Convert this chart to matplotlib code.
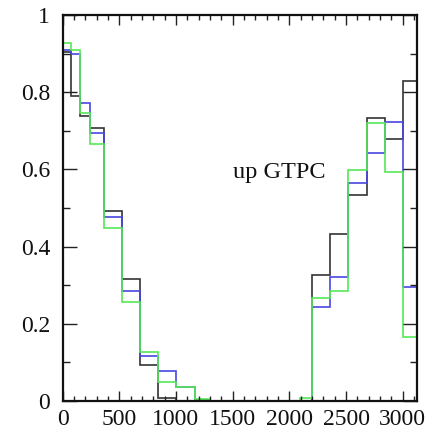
import matplotlib
matplotlib.use("Agg")
import matplotlib.pyplot as plt
from matplotlib.ticker import MultipleLocator, FuncFormatter

# bin edges (data units) and bin contents
edges = [0, 75, 155, 240, 365, 525, 685, 840, 1000, 1165, 1290,
         2090, 2200, 2360, 2520, 2680, 2840, 3000, 3160]
black = [0.905, 0.79, 0.738, 0.706, 0.493, 0.316, 0.093, 0.009, 0.0, 0.002,
         0.0, 0.0, 0.326, 0.432, 0.534, 0.734, 0.680, 0.83]
blue = [0.91, 0.90, 0.773, 0.694, 0.476, 0.286, 0.117, 0.078, 0.035, 0.0,
        0.0, 0.0, 0.243, 0.320, 0.566, 0.642, 0.724, 0.295]
green = [0.928, 0.91, 0.745, 0.667, 0.447, 0.256, 0.128, 0.050, 0.035, 0.005,
         0.0, 0.009, 0.266, 0.286, 0.598, 0.720, 0.594, 0.167]
label = "up GTPC"
xticks = [0, 500, 1000, 1500, 2000, 2500, 3000]
yticks = [0, 0.2, 0.4, 0.6, 0.8, 1.0]

W, H = 428, 433
fig = plt.figure(figsize=(W / 100, H / 100), dpi=100)
ax = fig.add_axes([62.5 / W, 1 - 401 / H, (417 - 62.5) / W, (401 - 15) / H])

serif = ["Liberation Serif", "DejaVu Serif"]
lw = 1.2
ax.stairs(black, edges, baseline=0, color="#333333", lw=lw)
ax.stairs(blue, edges, baseline=0, color="#4848e0", lw=lw)
ax.stairs(green, edges, baseline=0, color="#55e855", lw=lw)

ax.set_xlim(0, 3125)
ax.set_ylim(0, 1)
ax.set_xticks(xticks)
ax.set_yticks(yticks)
ax.xaxis.set_minor_locator(MultipleLocator(100))
ax.yaxis.set_minor_locator(MultipleLocator(0.1))
ax.yaxis.set_major_formatter(FuncFormatter(lambda v, p: "%g" % v))

ax.tick_params(axis="both", which="both", direction="in", top=True, right=True,
               width=1.0, color="#222222")
ax.tick_params(axis="y", which="major", length=10, pad=9)
ax.tick_params(axis="y", which="minor", length=5)
ax.tick_params(axis="x", which="major", length=7, pad=6)
ax.tick_params(axis="x", which="minor", length=3.5)
for t in ax.get_xticklabels() + ax.get_yticklabels():
    t.set_family(serif)
    t.set_fontsize(17)
    t.set_color("#111111")

for s in ax.spines.values():
    s.set_linewidth(1.6)
    s.set_color("#111111")

ax.text(1500, 0.592, label, family=serif, fontsize=17.5, ha="left", va="center",
        color="#111111")

fig.savefig("out.png", dpi=100)
